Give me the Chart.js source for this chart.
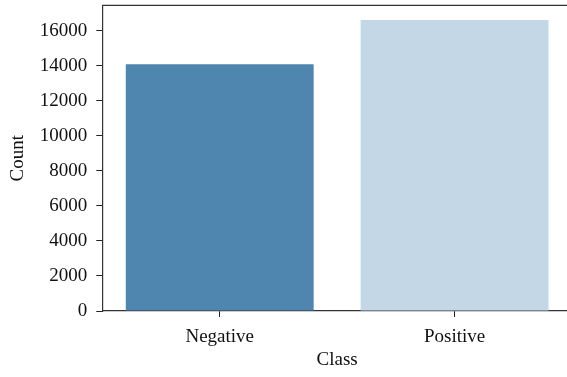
<!DOCTYPE html>
<html>
<head>
<meta charset="utf-8">
<script src="https://cdn.jsdelivr.net/npm/chart.js@4/dist/chart.umd.min.js"></script>
<style>
html,body{margin:0;padding:0;background:#fff;overflow:hidden;width:567px;height:377px;}
#wrap{width:572px;height:392px;position:absolute;left:0;top:-15px;}
</style>
</head>
<body>
<div id="wrap"><canvas id="c" width="572" height="392"></canvas></div>
<script>
const categories = ["Negative", "Positive"];
const counts = [14085, 16615];
const barColors = ["#4f86b0", "#c3d7e7"];
const yTicks = [0, 2000, 4000, 6000, 8000, 10000, 12000, 14000, 16000];
const yMax = 17446;

const FONT = "'Liberation Serif', 'DejaVu Serif', serif";

const topBorder = {
  id: 'topBorder',
  afterDraw(chart) {
    const a = chart.chartArea, ctx = chart.ctx;
    ctx.save();
    ctx.strokeStyle = '#333';
    ctx.lineWidth = 1.2;
    ctx.beginPath();
    ctx.moveTo(a.left, a.top);
    ctx.lineTo(a.right, a.top);
    ctx.stroke();
    ctx.restore();
  }
};

new Chart(document.getElementById('c'), {
  type: 'bar',
  data: {
    labels: categories,
    datasets: [{
      data: counts,
      backgroundColor: barColors,
      borderWidth: 0,
      categoryPercentage: 1.0,
      barPercentage: 0.8
    }]
  },
  options: {
    responsive: false,
    animation: false,
    layout: { padding: { top: 0, right: 0, left: 7, bottom: 7 } },
    plugins: { legend: { display: false }, tooltip: { enabled: false } },
    scales: {
      x: {
        grid: { display: true, drawOnChartArea: false, drawTicks: true, tickLength: 6, offset: false, color: '#222', lineWidth: 1 },
        border: { display: true, color: '#333', width: 1.2 },
        ticks: { color: '#111', font: { family: FONT, size: 19, lineHeight: 1.0 }, padding: 11 },
        title: { display: true, text: 'Class', color: '#111', font: { family: FONT, size: 19, lineHeight: 1.0 }, padding: { top: -7, bottom: 0 } }
      },
      y: {
        min: 0,
        max: yMax,
        afterBuildTicks(scale) { scale.ticks = yTicks.map(v => ({ value: v })); },
        grid: { display: true, drawOnChartArea: false, drawTicks: true, tickLength: 6, color: '#222', lineWidth: 1 },
        border: { display: true, color: '#333', width: 1.2 },
        ticks: { color: '#111', font: { family: FONT, size: 19 }, padding: 9, callback: v => String(v) },
        title: { display: true, text: 'Count', color: '#111', font: { family: FONT, size: 19 }, padding: { top: 0, bottom: 1 } }
      }
    }
  },
  plugins: [topBorder]
});
</script>
</body>
</html>
